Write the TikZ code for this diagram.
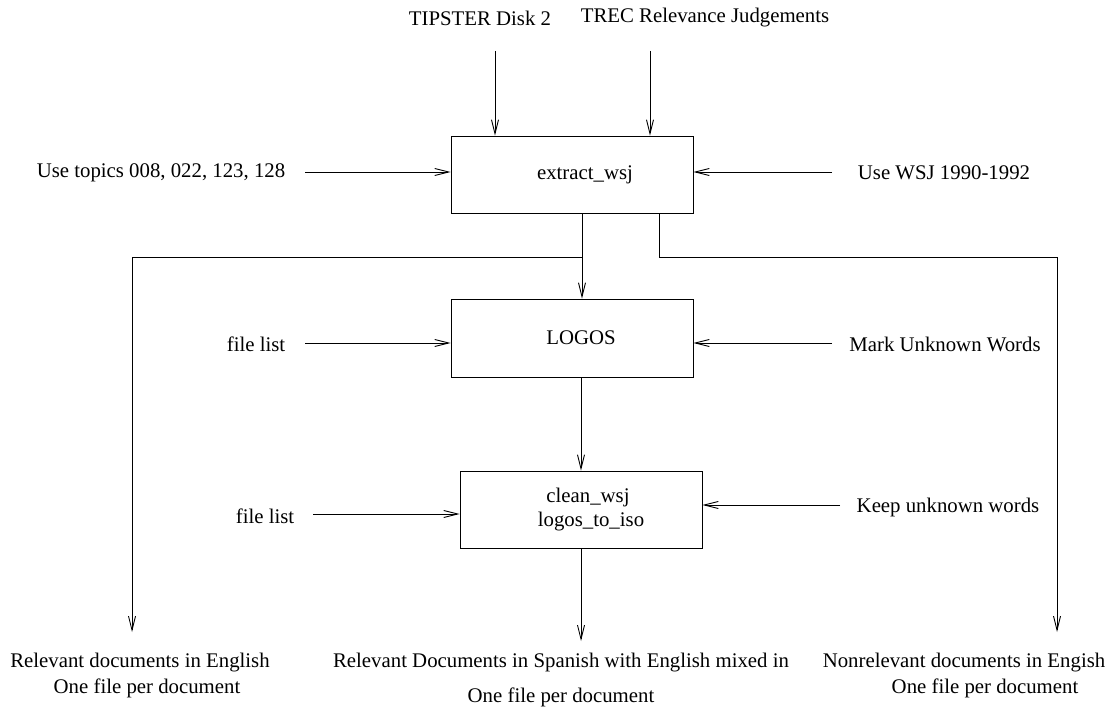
\documentclass[tikz,border=0pt]{standalone}
\usepackage{fontspec}
\setmainfont{Liberation Serif}
\usetikzlibrary{arrows.meta,positioning}

\begin{document}
\begin{tikzpicture}[x=1pt,y=-1pt,
    every node/.style={font=\fontsize{20.8}{26}\selectfont, inner sep=2pt},
    prog/.style={draw, line width=0.9pt, minimum width=242pt, minimum height=77pt},
    flow/.style={line width=0.9pt, -{Straight Barb[length=14pt,width=7pt]}}]
    \useasboundingbox (0,0) rectangle (1114,711);
    % programs
    \node[prog, label={[xshift=13pt]center:extract\_wsj}] (extract) at (572,174.5) {};
    \node[prog, minimum height=78pt, label={[xshift=9pt]center:LOGOS}] (logos) at (572,338) {};
    \node[prog, align=center] (clean) at (581,509.5)
        {\hspace*{14pt}clean\_wsj\\[-2pt]\hspace*{20pt}logos\_to\_iso};
    % inputs
    \node (tipster) at (480,18) {TIPSTER Disk 2};
    \node (trec) at (705,18) {TREC Relevance Judgements};
    \node (topics) at (161,173) {Use topics 008, 022, 123, 128};
    \node (years) at (944,173) {Use WSJ 1990-1992};
    \node (list1) at (256,344) {file list};
    \node (mark) at (945,344) {Mark Unknown Words};
    \node (list2) at (265,516) {file list};
    \node (keep) at (948,507) {Keep unknown words};
    % outputs
    \node[align=center] (relen) at (140,675)
        {Relevant documents in English\\\hspace*{14pt}One file per document};
    \node[align=center] (spanish) at (561,679.5)
        {Relevant Documents in Spanish with English mixed in\\[9pt]One file per document};
    \node[align=center] (nonrel) at (964,675)
        {Nonrelevant documents in Engish\\\hspace*{42pt}One file per document};
    \coordinate (tipin) at (495,51);
    \coordinate (trecin) at (650,51);
    \coordinate (topicsin) at (305,172);
    \coordinate (yearsin) at (832,172);
    \coordinate (list1in) at (305,343);
    \coordinate (markin) at (832,343);
    \coordinate (list2in) at (313,514);
    \coordinate (keepin) at (840,505);
    \coordinate (split) at (582,257);
    \coordinate (nonsplit) at (659,257);
    \coordinate (relout) at (132,632);
    \coordinate (nonout) at (1057,632);
    \coordinate (spanout) at (581,641);
    % connectors
    \draw[flow] (tipin) -- (tipin |- extract.north);
    \draw[flow] (trecin) -- (trecin |- extract.north);
    \draw[flow] (topicsin) -- (topicsin -| extract.west);
    \draw[flow] (yearsin) -- (yearsin -| extract.east);
    \draw[flow] (split |- extract.south) -- (split |- logos.north);
    \draw[flow] (split) -| (relout);
    \draw[flow] (nonsplit |- extract.south) -- (nonsplit) -| (nonout);
    \draw[flow] (list1in) -- (list1in -| logos.west);
    \draw[flow] (markin) -- (markin -| logos.east);
    \draw[flow] (clean.north |- logos.south) -- (clean.north);
    \draw[flow] (list2in) -- (list2in -| clean.west);
    \draw[flow] (keepin) -- (keepin -| clean.east);
    \draw[flow] (clean.south) -- (spanout);
\end{tikzpicture}
\end{document}
